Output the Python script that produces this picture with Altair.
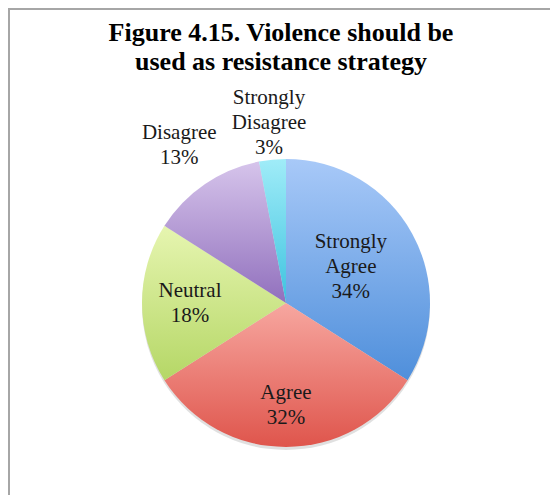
import altair as alt
import pandas as pd

categories = ["Strongly Agree", "Agree", "Neutral", "Disagree", "Strongly Disagree"]
percents = [34, 32, 18, 13, 3]
label_names = ["Strongly\nAgree", "Agree", "Neutral", "Disagree", "Strongly\nDisagree"]
title_lines = ["Figure 4.15. Violence should be", "used as resistance strategy"]

df = pd.DataFrame({
    "cat": categories,
    "value": percents,
    "idx": list(range(len(categories))),
    "label": [f"{n}\n{v}%" for n, v in zip(label_names, percents)],
})

grad_colors = {
    "Strongly Agree": ("#a8c9f8", "#4f8fdb"),
    "Agree": ("#f7a7a0", "#df554c"),
    "Neutral": ("#e6f5b0", "#b5d766"),
    "Disagree": ("#d6c4eb", "#9170bd"),
    "Strongly Disagree": ("#a0ecf8", "#3ec3df"),
}


def grad(top, bottom):
    return {"gradient": "linear", "x1": 0, "y1": 0, "x2": 0, "y2": 1,
            "stops": [{"offset": 0, "color": top}, {"offset": 1, "color": bottom}]}


fill_enc = {
    "condition": [
        {"test": f"datum.cat === '{c}'", "value": grad(*grad_colors[c])}
        for c in categories[:-1]
    ],
    "value": grad(*grad_colors[categories[-1]]),
}

W, H = 542, 487
CX, CY, R = 278, 295, 144
LH = 25

base = alt.Chart(df)

shadow = base.mark_arc(radius=R, fill="#000000", opacity=0.12).encode(
    theta=alt.Theta("value:Q", stack=True),
    order=alt.Order("idx:Q"),
    x=alt.value(CX),
    y=alt.value(CY + 3),
)

pie = base.mark_arc(radius=R, strokeWidth=0).encode(
    theta=alt.Theta("value:Q", stack=True),
    order=alt.Order("idx:Q"),
    fill=fill_enc,
    x=alt.value(CX),
    y=alt.value(CY),
)

labels = base.transform_window(
    cum="sum(value)", sort=[alt.SortField("idx")], frame=[None, 0]
).transform_joinaggregate(
    total="sum(value)"
).transform_calculate(
    lr="datum.cat=='Strongly Agree'?74:datum.cat=='Agree'?102:datum.cat=='Neutral'?96:datum.cat=='Disagree'?190:181",
    ang="2*PI*(datum.cum - datum.value/2)/datum.total",
    nl="length(split(datum.label, '\\n'))",
).transform_calculate(
    lx=f"{CX} + datum.lr*sin(datum.ang)",
    ly=f"{CY} - datum.lr*cos(datum.ang) - (datum.nl - 1)*{LH}/2",
).mark_text(
    font="Liberation Serif", fontSize=21, lineHeight=LH, lineBreak="\n",
    align="center", baseline="middle", color="#1a1a1a",
).encode(
    x=alt.X("lx:Q", scale=None, axis=None),
    y=alt.Y("ly:Q", scale=None, axis=None),
    text="label:N",
)

title_df = pd.DataFrame({"t": title_lines, "i": [0, 1]})
title = alt.Chart(title_df).mark_text(
    font="Liberation Serif", fontSize=26, fontWeight="bold",
    align="center", baseline="alphabetic", color="#000000",
).encode(
    text="t:N",
    x=alt.value(273),
    y=alt.Y("i:Q", scale=alt.Scale(domain=[0, 1], range=[33, 62]), axis=None),
)

frame_top = alt.Chart(title_df).mark_rule(color="#a6a6a6", strokeWidth=2).encode(
    x=alt.value(0), x2=alt.value(W), y=alt.value(1)
)
frame_left = alt.Chart(title_df).mark_rule(color="#a6a6a6", strokeWidth=2).encode(
    x=alt.value(1), y=alt.value(0), y2=alt.value(H)
)

chart = alt.layer(shadow, pie, labels, title, frame_top, frame_left).resolve_scale(
    x="independent", y="independent"
).properties(
    width=W, height=H, autosize=alt.AutoSizeParams(type="none"), padding=0
).configure_view(stroke=None)

chart.save("out.html", embed_options={"renderer": "svg", "actions": False})
